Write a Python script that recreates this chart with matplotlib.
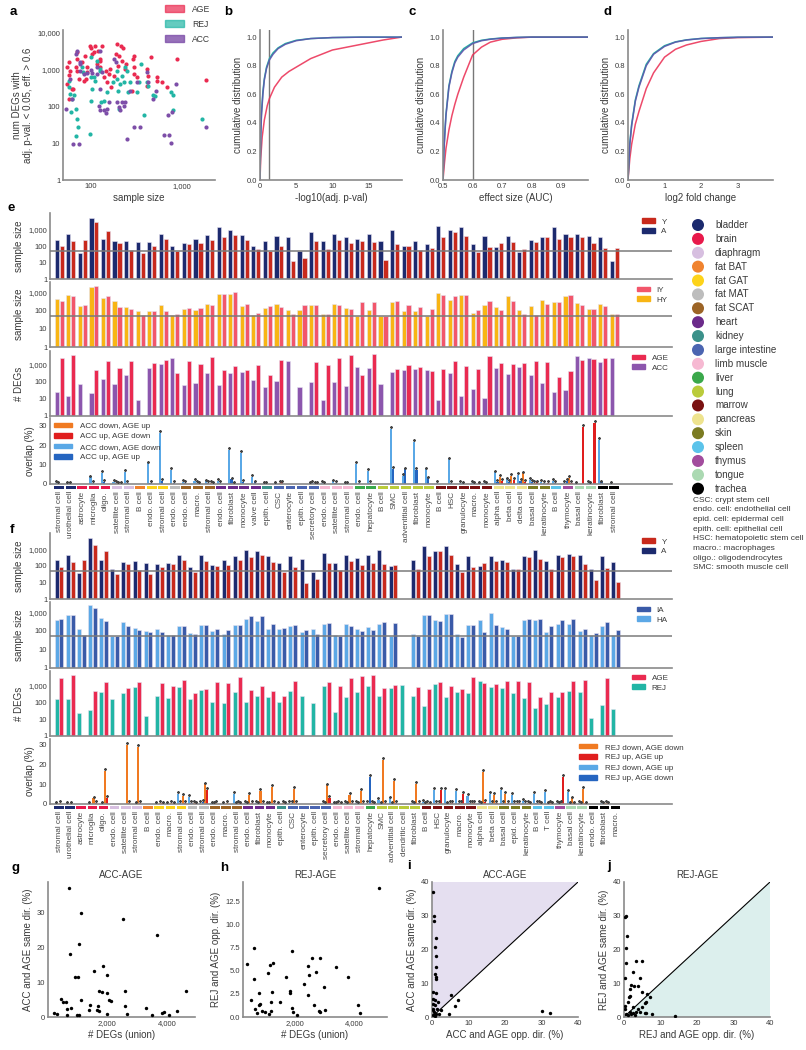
import numpy as np
import matplotlib
matplotlib.use('Agg')
import matplotlib.pyplot as plt
from matplotlib.ticker import FuncFormatter, FixedLocator, NullLocator
from matplotlib.patches import Patch

plt.rcParams['font.family'] = ['Liberation Sans', 'DejaVu Sans']
plt.rcParams['axes.unicode_minus'] = False

# ---------------- data ----------------
# panel a: (sample size, num DEGs)
AGE_pts = [(56,1160),(58,1600),(60,950),(58,700),(56,420),(62,300),(64,300),(58,160),
           (69,1150),(71,1950),(72,950),(71,2950),(75,560),(80,1600),(85,500),(90,560),(92,850),(92,1150),(88,2400),
           (100,4000),(99,4400),(104,2650),(108,2950),(113,4400),(118,1400),(120,3200),(126,1950),(128,1750),(133,4400),
           (128,1150),(140,620),(148,940),(152,456),(160,760),(165,1040),(167,333),
           (195,4900),(188,2650),(205,2400),(215,4400),(225,4000),(220,1750),(240,1040),(180,690),(200,1290),(245,1420),
           (296,760),(296,1160),(290,1950),(300,2400),(322,620),(285,270),(413,1040),(413,370),(425,690),(460,2150),
           (530,620),(530,500),(600,456),(681,333),(875,1950),(1854,520)]
REJ_pts = [(58,500),(58,333),(60,220),(61,70),(62,160),(66,200),(69,87),(72,46),(73,28),(69,15.5),(81,1160),(82,850),
           (100,2150),(101,620),(103,300),(100,145),(99,18),(109,620),(113,500),(118,1750),(126,1040),(128,940),(131,131),
           (140,145),(150,245),(176,456),(193,940),(196,560),(205,87),(200,270),(212,410),(220,690),(230,456),(240,1160),
           (250,940),(258,245),(272,456),(322,245),(335,456),(360,1420),(380,57),(413,456),(425,370),(480,200),(510,198),
           (760,245),(795,200),(800,78),(1640,46)]
ACC_pts = [(54,87),(60,560),(63,160),(64,9.8),(75,9.8),(69,2650),(72,3250),(76,1590),(77,1420),(77,940),(84,760),
           (91,810),(100,1000),(104,800),(118,1160),(119,760),(126,3250),(133,850),(128,300),(123,106),(128,78),(140,78),
           (146,65),(152,87),(158,131),(179,1950),(188,1590),(195,131),(205,96),(212,78),(220,131),(235,106),(240,131),
           (250,13.3),(272,270),(296,28),(322,456),(349,28),(413,850),(430,456),(488,160),(520,270),(640,17),(700,57),
           (720,17),(750,10),(780,70),(870,400),(1854,28)]

# panels b-d: cumulative distributions
b_x = [0,0.1,0.3,0.6,1,1.3,2,3,4,5,6,7,8,10,12,15,17,19.5]
b_age = [0,0.15,0.3,0.42,0.52,0.57,0.65,0.72,0.76,0.79,0.82,0.85,0.87,0.91,0.93,0.96,0.98,1.0]
b_x2 = [0,0.1,0.2,0.4,0.6,0.9,1.3,1.8,2.5,3.5,5,7,10,14,19.5]
b_rej = [0,0.32,0.47,0.62,0.71,0.79,0.85,0.89,0.925,0.955,0.978,0.99,0.997,1.0,1.0]
b_acc = [0,0.3,0.45,0.6,0.7,0.78,0.84,0.88,0.92,0.95,0.975,0.99,0.997,1.0,1.0]
c_x = [0.5,0.505,0.51,0.52,0.53,0.54,0.55,0.57,0.6,0.63,0.66,0.7,0.75,0.8,0.9,0.99]
c_age = [0,0.12,0.22,0.35,0.45,0.53,0.6,0.72,0.875,0.93,0.965,0.985,0.995,1.0,1.0,1.0]
c_x2 = [0.5,0.503,0.507,0.51,0.52,0.53,0.54,0.55,0.57,0.6,0.63,0.66,0.7,0.75,0.8,0.99]
c_rej = [0,0.21,0.36,0.46,0.66,0.76,0.83,0.87,0.92,0.96,0.978,0.987,0.994,0.998,1.0,1.0]
c_acc = [0,0.2,0.35,0.45,0.65,0.75,0.82,0.86,0.91,0.955,0.975,0.985,0.993,0.998,1.0,1.0]
d_x = [0,0.05,0.1,0.2,0.3,0.5,0.7,1.0,1.3,1.6,2.0,2.5,3.0,3.97]
d_age = [0,0.15,0.25,0.39,0.48,0.64,0.75,0.86,0.915,0.945,0.97,0.99,0.997,1.0]
d_rej = [0,0.26,0.39,0.56,0.66,0.81,0.885,0.94,0.967,0.981,0.991,0.996,0.999,1.0]
d_acc = [0,0.25,0.38,0.55,0.65,0.8,0.88,0.935,0.965,0.98,0.99,0.996,0.999,1.0]

TISSUES = ['bladder','brain','diaphragm','fat BAT','fat GAT','fat MAT','fat SCAT','heart','kidney',
           'large intestine','limb muscle','liver','lung','marrow','pancreas','skin','spleen','thymus','tongue','trachea']
TISSUE_COLORS = ['#1c2a6e','#e8194b','#d7bfe0','#f0832f','#fdd31a','#bdbdbd','#9c6426','#6b2a8a','#3b918a',
                 '#4b65b1','#f6b9d2','#3aa84b','#bacb3b','#7a1111','#eee38e','#7b7b22','#5bc3ea','#a24c9d','#abd9b2','#000000']

e_cells = ['stromal cell','urothelial cell','astrocyte','microglia','oligo.','satellite cell','stromal cell','B cell',
           'endo. cell','stromal cell','endo. cell','endo. cell','macro.','stromal cell','endo. cell','fibroblast',
           'monocyte','valve cell','epith. cell','CSC','enterocyte','epith. cell','secretory cell','endo. cell',
           'satellite cell','stromal cell','endo. cell','hepatocyte','B cell','SMC','adventitial cell','fibroblast',
           'monocyte','B cell','HSC','granulocyte','macro.','monocyte','alpha cell','beta cell','delta cell',
           'basal cell','keratinocyte','B cell','thymocyte','basal cell','keratinocyte','fibroblast','stromal cell']
e_tissue = (['bladder']*2 + ['brain']*3 + ['diaphragm']*2 + ['fat BAT'] + ['fat GAT']*2 + ['fat MAT'] +
            ['fat SCAT']*3 + ['heart']*4 + ['kidney'] + ['large intestine']*4 + ['limb muscle']*3 + ['liver']*2 +
            ['lung']*5 + ['marrow']*5 + ['pancreas']*3 + ['skin']*2 + ['spleen'] + ['thymus'] + ['tongue']*2 +
            ['trachea']*2)
nan = np.nan
e_A = [250,600,40,5500,300,200,200,190,180,550,100,150,270,500,1500,1000,500,110,200,450,350,50,800,200,600,400,300,
       600,200,1000,110,200,140,1800,1000,1500,140,410,95,410,43,240,400,1500,560,560,450,400,13]
e_Y = [100,220,250,3000,900,150,60,40,100,280,50,130,150,250,400,500,230,70,50,110,12,20,200,70,250,150,200,180,15,
       140,110,62,80,400,720,450,43,87,150,180,65,180,400,280,350,400,150,80,80]
e_HY = [415,720,165,2000,470,310,145,95,95,205,58,123,108,230,780,800,180,55,130,230,105,108,195,63,230,135,50,108,
        47,280,95,95,47,880,380,720,71,195,150,630,108,180,380,280,630,270,123,230,63]
e_IY = [335,580,205,2300,630,150,118,58,88,95,65,140,140,195,800,1000,230,75,170,150,65,190,210,65,210,118,280,280,
        47,350,205,145,123,660,630,720,100,335,105,335,63,58,230,280,660,210,113,165,68]
e_ACC = [25,15,70,23,140,78,240,8.2,670,1050,2300,62,85,330,62,340,370,130,50,110,1650,50,100,8.2,100,57,730,600,70,
         370,510,580,470,8.2,330,15,36,12,670,300,760,260,85,25,32,3200,2600,1500,2600]
e_AGE = [2450,3500,nan,470,1600,670,1600,nan,1300,2000,330,1600,1150,2800,510,830,470,920,240,1800,nan,nan,1450,1000,
         2300,3500,240,4000,nan,580,1000,730,430,580,1600,880,560,3100,1300,1150,1300,1700,1500,190,410,1800,2100,2600,nan]
# overlap (%) e: ACC down/AGE down, ACC up/AGE up, ACC down/AGE up, ACC up/AGE down
e_dd = [0.4,0.3,0,3.4,5.8,1.0,6.3,0,10.6,26.5,7.2,1.2,1.6,1.3,1.8,17.5,16.0,3.8,0.3,0.3,0,0,0.3,0.5,1.3,0.3,10.3,6.9,0,
        28.5,4.0,21.8,7.5,0.4,12.7,0.5,0.4,0.4,6.0,2.4,4.8,2.0,1.2,1.5,0.4,0.3,0.4,22.6,0.3]
e_uu = [0.2,0.3,0,0.6,1.2,0.5,0.4,0,0.6,1.5,0.5,0.5,0.4,0.6,0.4,2.4,1.0,0.8,0.2,0,0,0,0.4,0.2,0.5,0.2,0.5,0.5,0,7.9,
        7.6,7.4,2.9,0,0.5,0.3,0.3,0.3,1.0,1.2,1.5,1.2,0.4,0.4,1.5,0,0.3,0.8,0]
e_du = [0,0,0,0,0,0.3,0,0,0,0,0,0,0.3,0.4,0,0.3,0,0,0,0.4,0,0,0.2,0,0,0,0,0,0,0,0,0,0,0,0,0,0,0,3.8,4.0,5.5,0.5,0,0,
        3.0,0,0,0,0]
e_ud = [0,0,0,0,0,0.2,0,0,0,0,0,0,0,0.2,0,0,0,0,0,0.8,0,0,0.3,0,0,0,0,0,0,0,0,0,0,0,0,0,0.3,0,1.5,2.0,1.0,0.8,0.5,0,
        0.5,29.5,31.5,0,0]

f_cells = ['stromal cell','urothelial cell','astrocyte','microglia','oligo.','endo. cell','satellite cell','stromal cell',
           'B cell','endo. cell','macro.','stromal cell','endo. cell','stromal cell','endo. cell','macro.','stromal cell',
           'endo. cell','fibroblast','monocyte','epith. cell','CSC','enterocyte','epith. cell','secretory cell','endo. cell',
           'satellite cell','stromal cell','hepatocyte','SMC','adventitial cell','dendritic cell','fibroblast','B cell',
           'HSC','granulocyte','macro.','monocyte','alpha cell','beta cell','basal cell','epid. cell','keratinocyte',
           'B cell','T cell','thymocyte','basal cell','keratinocyte','endo. cell','fibroblast','macro.']
f_tissue = (['bladder']*2 + ['brain']*3 + ['diaphragm']*3 + ['fat BAT'] + ['fat GAT']*3 + ['fat MAT']*2 +
            ['fat SCAT']*3 + ['heart']*3 + ['kidney'] + ['large intestine']*4 + ['limb muscle']*3 + ['liver'] +
            ['lung']*4 + ['marrow']*5 + ['pancreas']*2 + ['skin']*3 + ['spleen']*2 + ['thymus'] + ['tongue']*2 +
            ['trachea']*3)
f_A = [220,490,37,5000,240,69,175,190,150,140,150,445,87,490,120,220,420,890,780,420,150,390,265,43,610,150,490,300,
       490,890,105,nan,220,1700,850,1550,140,390,105,420,220,66,390,890,210,490,560,445,66,390,165]
f_Y = [87,175,220,1800,780,34,130,54,34,83,140,240,43,210,95,110,220,350,445,175,43,83,10,17,150,60,210,110,150,130,
       110,nan,66,390,780,445,43,87,150,190,165,66,350,280,69,350,390,140,13.5,75,11]
f_HA = [380,660,120,2350,470,52,280,135,93,120,58,185,79,200,98,69,210,430,320,120,130,170,86,120,230,58,230,130,160,
        230,52,nan,64,660,400,810,66,210,360,880,150,52,400,360,90,230,240,93,56,185,61]
f_IA = [430,710,61,1750,320,52,185,105,86,90,58,170,64,215,120,115,210,600,600,230,143,200,110,69,270,50,185,100,105,
        300,250,nan,52,710,350,750,47,200,86,200,125,52,430,430,185,360,450,125,79,280,105]
f_REJ = [147,147,22,35,420,147,370,830,15,240,170,830,155,530,108,86,420,108,240,210,108,480,230,95,950,27,195,420,950,
         240,660,1050,230,62,1200,210,420,370,1800,760,730,330,170,48,78,210,460,400,12,71,38]
f_AGE = [2600,4100,nan,480,1650,nan,660,1650,nan,1450,910,2050,330,570,1650,1300,3300,530,910,460,240,1800,nan,nan,1500,
         950,2600,3700,4100,660,1050,nan,760,570,1650,910,570,3300,1450,1150,1900,1900,1500,195,390,390,1900,2050,nan,
         2600,nan]
# overlap (%) f: REJ down/AGE up, REJ up/AGE down, REJ down/AGE down, REJ up/AGE up
f_du = [0.3,0.3,0,0.3,0,0,0,0,0,0.3,0.3,5.0,3.7,0.5,0.3,0.3,5.3,0.5,0.5,0.3,0.3,0.5,0,0,0.5,0.3,0.5,0.5,0.5,2.0,2.8,0,
        0.5,1.0,7.0,7.0,6.7,4.0,0.5,5.3,7.3,4.5,1.5,5.0,6.2,0.5,6.2,0.5,0,0.5,0]
f_ud = [0,0,0,0,0.3,0,0,0.3,0,0,0,0.5,0.5,1.0,0.3,0,0.3,0.3,0.3,0.3,0,0.5,0,0,0.3,0.3,0.3,0.3,13.7,0.3,0.3,0,0.3,0.3,
        0.5,0.3,0.5,0.5,0.3,0.5,0.5,0.5,0.5,0.5,0.3,0.3,0.3,0.3,0,0.3,0]
f_dd = [0.5,0.3,0,2.8,17.0,0,30.0,29.0,0,0.5,0.5,4.2,0.5,10.0,0.5,0.5,0.5,4.5,6.5,8.8,0.5,7.7,0,0,9.5,0.5,4.5,6.5,0.5,
        22.5,11.7,0,10.3,0.5,0.5,0.5,0.5,0.5,16.2,4.5,5.3,0.5,0.5,0.5,0.5,0.5,2.8,7.8,0,0.5,0]
f_uu = [0,0,0,0.5,3.3,0,0.5,0.5,0,0.3,0.3,0.5,0.3,7.0,0,0,0.3,0.5,0.5,0.5,0.3,0.5,0,0,3.3,0.3,0.5,0.5,0.3,0.5,0.5,0,
        0.5,0.3,7.0,0.5,5.0,0.5,1.0,0.5,0.5,0.5,0.3,0.3,0.3,13.7,0.3,0.3,0,0.3,0]

# panels g-j
g_pts = [(213,1.1),(315,0.9),(427,5.2),(517,4.2),(596,4.2),(630,0.7),(652,2.3),(719,37.2),(742,18.1),(775,2.5),
         (910,11.4),(966,0.5),(1000,11.4),(1056,21),(1101,30),(1101,4.8),(1034,0.5),(1371,2.1),(1416,3.5),(1550,13.1),
         (1685,3.3),(1663,1.9),(1708,1.8),(1730,7.6),(1809,7.3),(1854,14.8),(1978,12.1),(2000,6.9),(2045,5.0),
         (2112,4.5),(1978,1.0),(2539,28.3),(2607,7.6),(2607,3.3),(2652,0.9),(3292,2.6),(3494,0.5),(3663,23.6),
         (3854,1.1),(3899,1.4),(4079,0.5),(4348,1.8),(4652,7.4)]
h_pts = [(371,5.8),(506,1.9),(618,7.5),(618,4.1),(652,0.9),(708,0.4),(764,2.6),(787,1.3),(820,1.4),(876,0.7),
         (989,0.5),(1067,4.8),(1101,0.3),(1135,5.7),(1180,1.6),(1191,0.7),(1213,2.7),(1236,5.9),(1494,1.6),(1685,4.3),
         (1809,2.8),(1809,2.6),(1899,7.2),(1888,1.0),(1910,0.5),(2056,0.2),(2281,3.6),(2416,5.5),(2449,4.6),(2416,2.4),
         (2562,6.4),(2618,1.3),(2697,4.9),(2787,0.7),(2820,0.5),(2820,6.4),(2977,3.3),(3011,0.8),(3371,5.4),(3775,4.3),
         (4101,1.3),(4191,0.4),(4809,14.0)]
i_pts = [(0.3,36.9),(0.5,29.8),(0.6,28.3),(1.2,23.3),(0.9,20.8),(1.1,18.2),(1.0,14.7),(0.8,12.6),(1.0,11.9),
         (1.0,11.3),(0.3,7.4),(1.0,7.1),(5.2,6.6),(0.3,5.2),(0.7,5.0),(0.3,4.0),(0.7,3.5),(7.1,5.0),(6.2,3.4),(1.6,4.5),
         (2.4,2.2),(0.3,2.5),(0.5,1.5),(1.0,1.0),(1.9,0.8),(4.6,1.0),(0.3,0.5),(0.7,0.2),(30.2,1.7),(32.3,1.3),
         (0.2,2.0),(1.4,2.5)]
j_pts = [(0.5,30),(0.4,29.5),(0.9,24),(0.6,20.3),(0.6,16.1),(0.4,11.7),(0.4,3.4),(1.6,8.4),(1.4,6.0),(1.7,6.2),
         (1.1,4.5),(2.0,9.4),(2.5,13.2),(2.7,9.2),(3.4,16.7),(3.8,9.2),(4.9,16.7),(4.5,11.7),(4.9,7.4),(6.3,6.7),
         (7.0,5.8),(5.9,4.5),(5.7,4.2),(5.7,1.2),(6.1,1.3),(7.7,1.0),(14.1,0.3),(2.5,3.0),(3.4,1.5),(4.3,1.5),(1.6,1.5),
         (2.5,1.2),(0.6,1.0),(1.1,0.5),(1.8,0.8),(2.9,0.5),(5.0,3.0),(3.9,2.3),(0.4,2.5)]

ABBREV = ['CSC: crypt stem cell', 'endo. cell: endothelial cell', 'epid. cell: epidermal cell',
          'epith. cell: epithelial cell', 'HSC: hematopoietic stem cell', 'macro.: macrophages',
          'oligo.: oligodendrocytes', 'SMC: smooth muscle cell']

# ---------------- styling ----------------
W, H = 806, 1050
fig = plt.figure(figsize=(W / 100, H / 100), dpi=100)
TXT = '#3a3a3a'
SP = '#8a8a8a'
C_AGE, C_REJ, C_ACC = '#ea2a50', '#22b5a5', '#7d4ea8'
TICK_FS, LAB_FS, LEG_FS = 5.5, 7.0, 5.5
comma = FuncFormatter(lambda v, p: f'{v:,.0f}')


def add_ax(l, t, r, b):
    return fig.add_axes([l / W, 1 - b / H, (r - l) / W, (b - t) / H])


def style(ax):
    for s in ['top', 'right']:
        ax.spines[s].set_visible(False)
    for s in ['left', 'bottom']:
        ax.spines[s].set_color(SP)
        ax.spines[s].set_linewidth(1.2)
    ax.tick_params(length=0, labelsize=TICK_FS, colors=TXT, pad=2)
    ax.set_facecolor('none')


def letter(x, y, s):
    fig.text(x / W, 1 - y / H, s, fontsize=9.5, fontweight='bold', va='center', ha='left', color='black')


# ---------------- panel a ----------------
ax = add_ax(63, 30, 215, 180)
style(ax)
for pts, col, lab in [(AGE_pts, C_AGE, 'AGE'), (REJ_pts, C_REJ, 'REJ'), (ACC_pts, C_ACC, 'ACC')]:
    arr = np.array(pts)
    ax.scatter(arr[:, 0], arr[:, 1], s=9, color=col, linewidths=0, zorder=3)
ax.set_xscale('log'); ax.set_yscale('log')
ax.set_xlim(50, 2300); ax.set_ylim(1, 12000)
ax.xaxis.set_major_locator(FixedLocator([100, 1000]))
ax.yaxis.set_major_locator(FixedLocator([1, 10, 100, 1000, 10000]))
ax.xaxis.set_minor_locator(NullLocator()); ax.yaxis.set_minor_locator(NullLocator())
ax.xaxis.set_major_formatter(comma); ax.yaxis.set_major_formatter(comma)
ax.set_xlabel('sample size', fontsize=LAB_FS, color=TXT, labelpad=2)
ax.set_ylabel('num DEGs with\nadj. p-val. < 0.05, eff. > 0.6', fontsize=LAB_FS, color=TXT, labelpad=3)
ax.legend(handles=[Patch(color=C_AGE, alpha=0.7, label='AGE'), Patch(color=C_REJ, alpha=0.7, label='REJ'),
                   Patch(color=C_ACC, alpha=0.8, label='ACC')],
          loc='upper left', bbox_to_anchor=(0.67, 1.17), frameon=False, fontsize=6.2, handlelength=2.2,
          handleheight=0.9, labelspacing=0.7, handletextpad=1.0, borderpad=0, borderaxespad=0,
          labelcolor=TXT)
letter(10, 12, 'a')

# ---------------- panels b-d ----------------
def cdf_panel(box, xs, age, xs2, rej, acc, xlim, xticks, xlab, vline=None, fmt=None):
    ax = add_ax(*box)
    style(ax)
    ax.plot(xs, age, color=C_AGE, lw=1.1, alpha=0.85)
    ax.plot(xs2, rej, color=C_REJ, lw=1.1)
    ax.plot(xs2, acc, color='#5f55ad', lw=1.1, alpha=0.9)
    if vline is not None:
        ax.axvline(vline, color='#777777', lw=1.0, zorder=0)
    ax.set_xlim(*xlim); ax.set_ylim(0, 1.05)
    ax.set_xticks(xticks)
    if fmt:
        ax.set_xticklabels([fmt(v) for v in xticks])
    ax.set_yticks([0, 0.2, 0.4, 0.6, 0.8, 1.0])
    ax.set_yticklabels(['0.0', '0.2', '0.4', '0.6', '0.8', '1.0'])
    ax.set_xlabel(xlab, fontsize=LAB_FS, color=TXT, labelpad=2)
    ax.set_ylabel('cumulative distribution', fontsize=LAB_FS, color=TXT, labelpad=3)
    return ax

cdf_panel((260, 30, 402, 180), b_x, b_age, b_x2, b_rej, b_acc, (0, 19.6), [0, 5, 10, 15], '-log10(adj. p-val)', vline=1.3)
cdf_panel((443, 30, 588, 180), c_x, c_age, c_x2, c_rej, c_acc, (0.5, 0.99), [0.5, 0.6, 0.7, 0.8, 0.9],
          'effect size (AUC)', vline=0.6, fmt=lambda v: f'{v:.1f}')
cdf_panel((628, 30, 773, 180), d_x, d_age, d_x, d_rej, d_acc, (0, 3.97), [0, 1, 2, 3], 'log2 fold change')
letter(224, 12, 'b'); letter(409, 12, 'c'); letter(604, 12, 'd')

# ---------------- panels e / f ----------------
tcol = dict(zip(TISSUES, TISSUE_COLORS))


def bar_row(box, n, xr, v1, v2, c1, c2, l1, l2, top, ylabel, leg_xy, thresh=True):
    ax = add_ax(*box)
    style(ax)
    x = np.arange(n)
    for vals, off, col in [(v1, -0.215, c1), (v2, 0.215, c2)]:
        v = np.array(vals, dtype=float)
        m = ~np.isnan(v)
        ax.bar(x[m] + off, v[m], width=0.36, color=col, linewidth=0.4, edgecolor='#e6e3f0', zorder=2)
    ax.set_yscale('log')
    ax.set_ylim(1, top)
    ax.set_xlim(*xr)
    ax.yaxis.set_major_locator(FixedLocator([1, 10, 100, 1000]))
    ax.yaxis.set_minor_locator(NullLocator())
    ax.yaxis.set_major_formatter(comma)
    ax.set_xticks([])
    if thresh:
        ax.axhline(50, color='#7a7a7a', lw=1.1, zorder=3)
    ax.set_ylabel(ylabel, fontsize=LAB_FS, color=TXT, labelpad=3)
    ax.legend(handles=[Patch(color=c2, label=l2), Patch(color=c1, label=l1)], loc='upper left',
              bbox_to_anchor=leg_xy, frameon=False, fontsize=LEG_FS + 0.3, handlelength=1.6, handleheight=0.55,
              labelspacing=0.3, handletextpad=0.8, borderpad=0, borderaxespad=0, labelcolor=TXT)
    return ax


OV_COLORS = ['#5aa8e6', '#2565c0', '#f07a22', '#e01e1e']


def overlap_row(box, n, xr, series, labels_colors, leg_xy, top):
    ax = add_ax(*box)
    style(ax)
    x = np.arange(n)
    offs = [-0.3, -0.1, 0.1, 0.3]
    for vals, off, col in zip(series, offs, OV_COLORS):
        v = np.array(vals, dtype=float)
        ax.bar(x + off, v, width=0.19, color=col, zorder=2)
        m = v > 0
        ax.scatter(x[m] + off, v[m] + 0.9, marker=(6, 2, 0), s=2.2, color='#444444', linewidths=0.5, zorder=3)
    ax.set_xlim(*xr)
    ax.set_ylim(0, top)
    ax.set_yticks([0, 10, 20, 30])
    ax.set_xticks([])
    ax.set_ylabel('overlap (%)', fontsize=LAB_FS, color=TXT, labelpad=3)
    ax.legend(handles=[Patch(color=c, label=l) for l, c in labels_colors], loc='upper left', bbox_to_anchor=leg_xy,
              frameon=False, fontsize=LEG_FS + 0.3, handlelength=2.3, handleheight=0.55, labelspacing=0.4,
              handletextpad=1.0, borderpad=0, borderaxespad=0, labelcolor=TXT)
    return ax


def strip(box, n, xr, cells, tissues):
    ax = add_ax(*box)
    x = np.arange(n)
    ax.bar(x, np.ones(n), width=0.86, color=[tcol[t] for t in tissues], linewidth=0)
    ax.set_xlim(*xr); ax.set_ylim(0, 1)
    for s in ax.spines.values():
        s.set_visible(False)
    ax.set_yticks([])
    ax.set_xticks(x)
    ax.set_xticklabels(cells, rotation=90, fontsize=5.9, color='#4a4a4a', va='top', ha='center')
    ax.tick_params(length=0, pad=1.5)
    ax.set_facecolor('none')


ne, nf = len(e_cells), len(f_cells)
xr_e = (-0.80, 53.0)
xr_f = (-0.81, 55.07)

bar_row((50, 213, 672, 279), ne, xr_e, e_A, e_Y, '#1c2a6e', '#c8291c', 'A', 'Y', 11000, 'sample size', (0.952, 0.92))
bar_row((50, 282, 672, 347), ne, xr_e, e_HY, e_IY, '#f8b514', '#f2566b', 'HY', 'IY', 3600, 'sample size', (0.944, 0.93))
bar_row((50, 351, 672, 416), ne, xr_e, e_ACC, e_AGE, '#8c56ad', C_AGE, 'ACC', 'AGE', 6300, '# DEGs', (0.936, 0.945),
        thresh=False)
overlap_row((50, 418, 672, 484), ne, xr_e, [e_dd, e_uu, e_du, e_ud],
            [('ACC down, AGE up', '#f07a22'), ('ACC up, AGE down', '#e01e1e'),
             ('ACC down, AGE down', '#5aa8e6'), ('ACC up, AGE up', '#2565c0')], (0.006, 0.93), 34)
strip((50, 486, 672, 489), ne, xr_e, e_cells, e_tissue)

bar_row((50, 533, 672, 599), nf, xr_f, f_A, f_Y, '#1c2a6e', '#c8291c', 'A', 'Y', 10000, 'sample size', (0.952, 0.92))
bar_row((50, 602, 672, 668), nf, xr_f, f_HA, f_IA, '#5ca8e6', '#3a5aa8', 'HA', 'IA', 3500, 'sample size', (0.944, 0.93))
bar_row((50, 671, 672, 736), nf, xr_f, f_REJ, f_AGE, C_REJ, C_AGE, 'REJ', 'AGE', 7000, '# DEGs', (0.936, 0.945),
        thresh=False)
overlap_row((50, 739, 672, 804), nf, xr_f, [f_du, f_ud, f_dd, f_uu],
            [('REJ down, AGE down', '#f07a22'), ('REJ up, AGE up', '#e01e1e'),
             ('REJ down, AGE up', '#5aa8e6'), ('REJ up, AGE down', '#2565c0')], (0.85, 0.93), 33)
strip((50, 806, 672, 809), nf, xr_f, f_cells, f_tissue)
letter(8, 208, 'e'); letter(10, 530, 'f')

# tissue legend
lax = add_ax(0, 0, W, H)
lax.set_xlim(0, W); lax.set_ylim(H, 0); lax.axis('off'); lax.set_facecolor('none')
ty = 225 + 13.88 * np.arange(len(TISSUES))
lax.scatter(np.full(len(TISSUES), 698), ty, s=75, c=TISSUE_COLORS, linewidths=0)
for yy, name in zip(ty, TISSUES):
    lax.text(715, yy, name, fontsize=7.1, color=TXT, va='center', ha='left')
for k, line in enumerate(ABBREV):
    lax.text(693, 500 + 9.7 * k, line, fontsize=6.0, color=TXT, va='center', ha='left')

# ---------------- panels g-j ----------------
def scat(box, pts, xlim, ylim, xticks, yticks, xlab, ylab, title, xfmt=None, yfmt=None):
    ax = add_ax(*box)
    style(ax)
    arr = np.array(pts)
    ax.scatter(arr[:, 0], arr[:, 1], s=6, color='black', linewidths=0, zorder=3)
    ax.set_xlim(*xlim); ax.set_ylim(*ylim)
    ax.set_xticks(xticks); ax.set_yticks(yticks)
    if xfmt: ax.xaxis.set_major_formatter(xfmt)
    if yfmt: ax.yaxis.set_major_formatter(yfmt)
    ax.set_xlabel(xlab, fontsize=LAB_FS, color=TXT, labelpad=2)
    ax.set_ylabel(ylab, fontsize=LAB_FS, color=TXT, labelpad=3)
    ax.set_title(title, fontsize=7.0, color=TXT, pad=3)
    return ax

scat((48, 882, 195, 1017), g_pts, (0, 4950), (0, 38.8), [2000, 4000], [0, 10, 20, 30], '# DEGs (union)',
     'ACC and AGE same dir. (%)', 'ACC-AGE', xfmt=comma)
scat((243, 882, 387, 1017), h_pts, (236, 5090), (0, 14.66), [2000, 4000], [0, 2.5, 5, 7.5, 10, 12.5],
     '# DEGs (union)', 'REJ and AGE opp. dir. (%)', 'REJ-AGE', xfmt=comma,
     yfmt=FuncFormatter(lambda v, p: f'{v:.1f}'))
axi = scat((432, 882, 578, 1017), i_pts, (0, 40), (0, 40), [0, 10, 20, 30, 40], [0, 10, 20, 30, 40],
           'ACC and AGE opp. dir. (%)', 'ACC and AGE same dir. (%)', 'ACC-AGE')
axi.fill([0, 0, 40], [0, 40, 40], color='#e5dff0', zorder=0, lw=0)
axi.plot([0, 40], [0, 40], color='black', lw=0.8, zorder=2)
axj = scat((624, 882, 770, 1017), j_pts, (0, 40), (0, 40), [0, 10, 20, 30, 40], [0, 10, 20, 30, 40],
           'REJ and AGE opp. dir. (%)', 'REJ and AGE same dir. (%)', 'REJ-AGE')
axj.fill([0, 40, 40], [0, 0, 40], color='#dcefed', zorder=0, lw=0)
axj.plot([0, 40], [0, 40], color='black', lw=0.8, zorder=2)
letter(12, 868, 'g'); letter(220, 868, 'h'); letter(407, 866, 'i'); letter(607, 866, 'j')

fig.savefig('out.png', dpi=100, facecolor='white')
